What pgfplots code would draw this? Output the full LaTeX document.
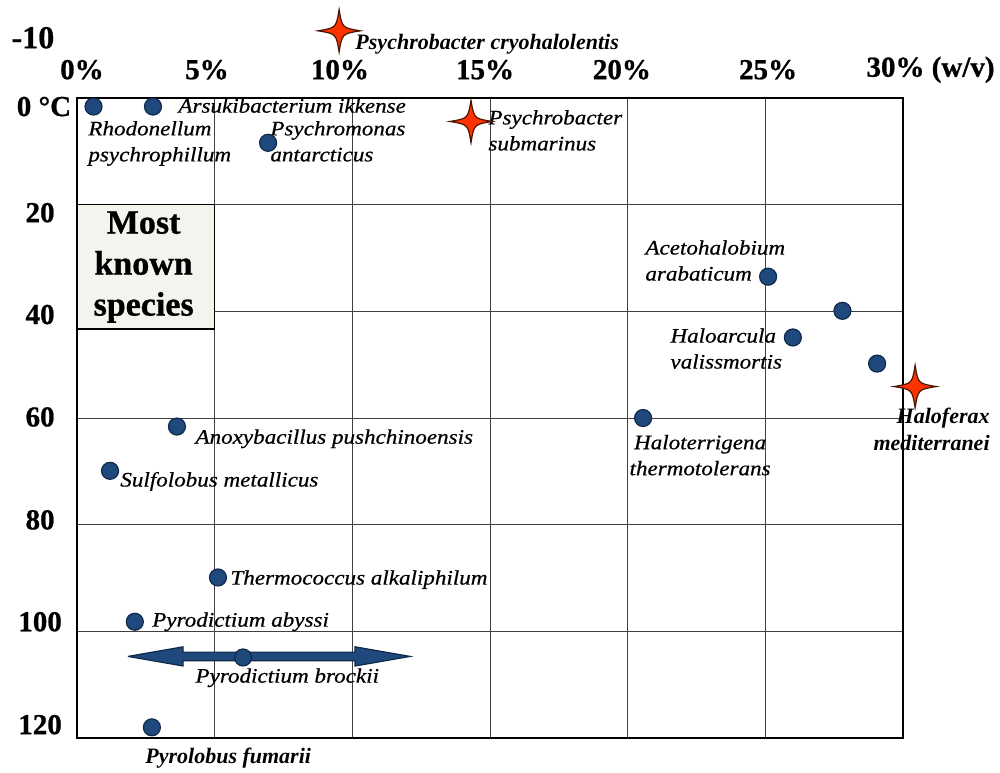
\documentclass[border=0pt]{standalone}
\usepackage{fontspec}
\setmainfont{Liberation Serif}
\newfontfamily\lab[FakeStretch=1.12,FakeBold=0.6]{Liberation Serif}
\newfontfamily\tkf[FakeBold=0.8]{Liberation Serif}
\usepackage{pgfplots}
\pgfplotsset{compat=1.18}
\definecolor{dotblue}{HTML}{1F497D}
\definecolor{dotedge}{HTML}{10284A}
\definecolor{starred}{HTML}{FF3300}
\definecolor{staredge}{HTML}{4A1400}
\definecolor{boxfill}{HTML}{F4F3EE}
\pgfdeclareplotmark{star4}{%
  \pgfpathmoveto{\pgfpoint{0pt}{\pgfplotmarksize}}%
  \pgfpathcurveto{\pgfpoint{0.14\pgfplotmarksize}{0.14\pgfplotmarksize}}{\pgfpoint{0.14\pgfplotmarksize}{0.14\pgfplotmarksize}}{\pgfpoint{\pgfplotmarksize}{0pt}}%
  \pgfpathcurveto{\pgfpoint{0.14\pgfplotmarksize}{-0.14\pgfplotmarksize}}{\pgfpoint{0.14\pgfplotmarksize}{-0.14\pgfplotmarksize}}{\pgfpoint{0pt}{-\pgfplotmarksize}}%
  \pgfpathcurveto{\pgfpoint{-0.14\pgfplotmarksize}{-0.14\pgfplotmarksize}}{\pgfpoint{-0.14\pgfplotmarksize}{-0.14\pgfplotmarksize}}{\pgfpoint{-\pgfplotmarksize}{0pt}}%
  \pgfpathcurveto{\pgfpoint{-0.14\pgfplotmarksize}{0.14\pgfplotmarksize}}{\pgfpoint{-0.14\pgfplotmarksize}{0.14\pgfplotmarksize}}{\pgfpoint{0pt}{\pgfplotmarksize}}%
  \pgfpathclose
  \pgfusepathqfillstroke}
\tikzset{
  sp/.style={font=\lab\itshape\fontsize{10.3}{13}\selectfont, inner sep=0pt, align=left},
  spb/.style={font=\bfseries\itshape\fontsize{11}{13.5}\selectfont, inner sep=0pt},
  tk/.style={font=\tkf\bfseries\fontsize{14.5}{16}\selectfont, inner sep=0pt}
}
\begin{document}
\begin{tikzpicture}
\path[use as bounding box] (0,0) rectangle (500pt,386pt);
\begin{axis}[
  at={(38.5pt,17pt)}, anchor=south west,
  scale only axis, width=413pt, height=320pt,
  xmin=0, xmax=30, ymin=0, ymax=120, y dir=reverse,
  xtick={0,5,...,30}, ytick={0,20,...,120},
  xticklabels={}, yticklabels={},
  major tick length=0pt,
  grid=major, grid style={line width=0.5pt, color=black!75},
  axis line style={line width=0.9pt, black},
  clip=false
]
% Most known species box
\addplot[fill=boxfill, draw=black, line width=0.6pt] coordinates {(0,20) (5,20) (5,43.3) (0,43.3) (0,20)};
\node[font=\tkf\bfseries\fontsize{17}{20.5}\selectfont, align=center, inner sep=0pt] at (axis cs:2.42,31.7) {Most\\known\\species};

% species (circles)
\addplot[only marks, mark=*, mark size=4.25pt, mark options={fill=dotblue, draw=dotedge, line width=0.6pt}] coordinates {
 (0.6,1.6) (2.76,1.6) (6.94,8.4)
 (25.1,33.5) (27.8,39.9) (26.0,44.9) (29.06,49.8) (20.56,60.0)
 (3.63,61.6) (1.2,69.9) (5.12,89.9) (2.1,98.2) (6.03,104.9) (2.72,118.0)
};

% double arrow
\addplot[fill=dotblue, draw=dotedge, line width=0.6pt] coordinates {
 (1.85,104.7) (3.85,102.9) (3.85,103.9) (10.1,103.9) (10.1,102.9) (12.1,104.7)
 (10.1,106.5) (10.1,105.5) (3.85,105.5) (3.85,106.5) (1.85,104.7)
};

% stars
\addplot[only marks, mark=star4, mark size=10.6pt, mark options={fill=starred, draw=staredge, line width=0.6pt}] coordinates {
 (9.52,-12.6) (14.31,4.4) (30.44,54.1)
};

% tick labels
\node[tk] at (axis cs:0.18,-5.3) {0\%};
\node[tk] at (axis cs:4.72,-5.3) {5\%};
\node[tk] at (axis cs:9.55,-5.3) {10\%};
\node[tk] at (axis cs:14.82,-5.3) {15\%};
\node[tk] at (axis cs:19.79,-5.3) {20\%};
\node[tk] at (axis cs:25.1,-5.3) {25\%};
\node[tk, anchor=west] at (axis cs:28.66,-5.3) {30\% (w/v)};
\node[tk, font=\tkf\bfseries\fontsize{16}{18}\selectfont] at (axis cs:-1.6,-11.3) {-10};
\node[tk] at (axis cs:-1.2,1.6) {0 °C};
\node[tk] at (axis cs:-1.34,21.5) {20};
\node[tk] at (axis cs:-1.34,40.6) {40};
\node[tk] at (axis cs:-1.34,59.8) {60};
\node[tk] at (axis cs:-1.34,79.1) {80};
\node[tk] at (axis cs:-1.34,98.2) {100};
\node[tk] at (axis cs:-1.34,117.5) {120};

% species labels
\node[sp, anchor=west] at (axis cs:3.67,1.43) {Arsukibacterium ikkense};
\node[sp, anchor=north west] at (axis cs:0.40,4.25) {Rhodonellum\\psychrophillum};
\node[sp, anchor=north west] at (axis cs:7.01,4.25) {Psychromonas\\antarcticus};
\node[spb, anchor=west] at (axis cs:10.1,-10.0) {Psychrobacter cryohalolentis};
\node[sp, anchor=north west] at (axis cs:14.93,2.2) {Psychrobacter\\submarinus};
\node[sp, anchor=north west] at (axis cs:20.63,26.6) {Acetohalobium\\arabaticum};
\node[sp, anchor=north west] at (axis cs:21.54,43.1) {Haloarcula\\valissmortis};
\node[sp, anchor=north, align=center] at (axis cs:22.63,63.1) {Haloterrigena\\thermotolerans};
\node[spb, anchor=north east, align=right] at (axis cs:33.16,58.1) {Haloferax\\mediterranei};
\node[sp, anchor=west] at (axis cs:4.29,63.9) {Anoxybacillus pushchinoensis};
\node[sp, anchor=west] at (axis cs:1.56,71.9) {Sulfolobus metallicus};
\node[sp, anchor=west] at (axis cs:5.56,90.3) {Thermococcus alkaliphilum};
\node[sp, anchor=west] at (axis cs:2.72,98.2) {Pyrodictium abyssi};
\node[sp, anchor=west] at (axis cs:4.29,108.7) {Pyrodictium brockii};
\node[spb, anchor=west] at (axis cs:2.47,123.7) {Pyrolobus fumarii};
\end{axis}
\end{tikzpicture}
\end{document}
